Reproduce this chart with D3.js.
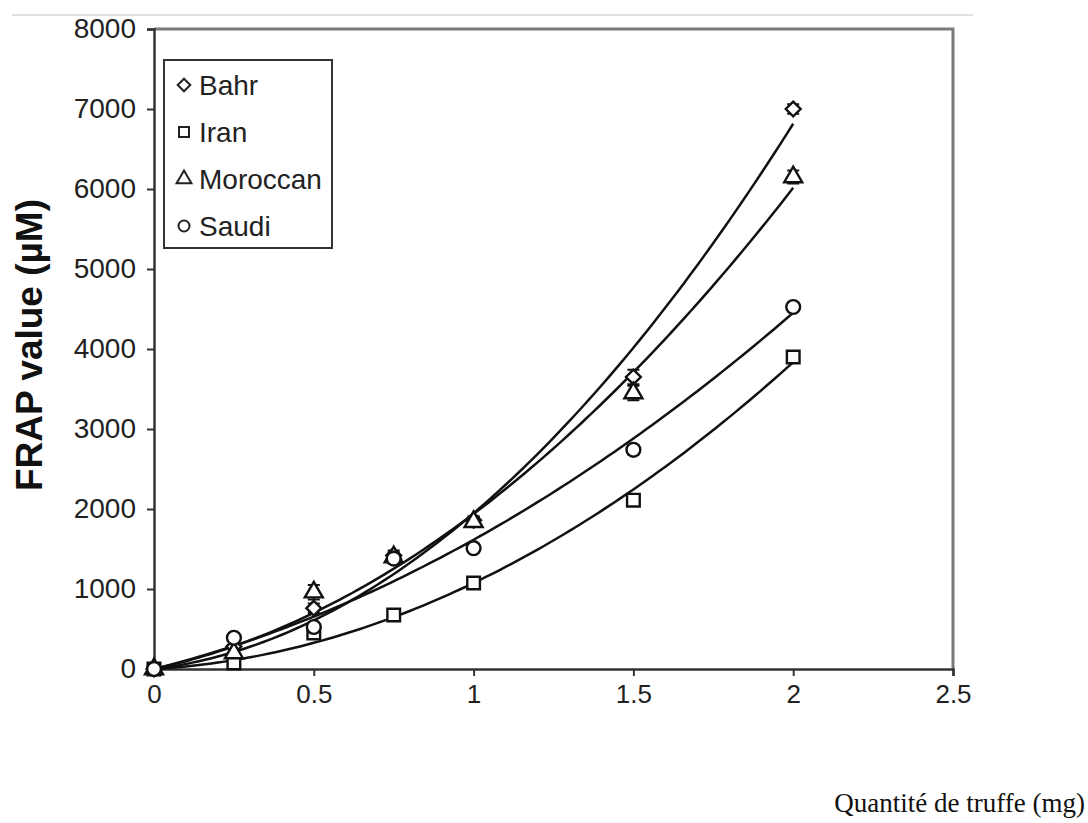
<!DOCTYPE html>
<html>
<head>
<meta charset="utf-8">
<script src="https://cdn.jsdelivr.net/npm/d3@7"></script>
<style>
  body { margin: 0; background: #fff; }
  svg { display: block; }
</style>
</head>
<body>
<svg width="1088" height="823"></svg>
<script>
// amount of truffle (mg)
var doses = [0, 0.25, 0.5, 0.75, 1, 1.5, 2];

var seriesNames = ["Bahr", "Iran", "Moroccan", "Saudi"];

// FRAP values (µM)
var bahr     = [0, 280, 760, 1420, 1860, 3650, 7000];
var iran     = [0, 75, 450, 675, 1075, 2110, 3900];
var moroccan = [0, 200, 960, 1400, 1840, 3450, 6150];
var saudi    = [0, 390, 525, 1380, 1510, 2740, 4525];

// small error bars
var bahrErr     = [0, 30, 60, 60, 50, 90, 60];
var iranErr     = [0, 20, 40, 30, 40, 50, 50];
var moroccanErr = [0, 30, 90, 60, 60, 90, 80];
var saudiErr    = [0, 30, 50, 60, 40, 60, 50];

var xTicks = [0, 0.5, 1, 1.5, 2, 2.5];
var xTickLabels = ["0", "0.5", "1", "1.5", "2", "2.5"];
var yTicks = [0, 1000, 2000, 3000, 4000, 5000, 6000, 7000, 8000];

// diamond drawn as a square turned 45 degrees (wider than d3's diamond)
var wideDiamond = {
  draw: function(ctx, size) {
    var r = Math.sqrt(size / 2);
    ctx.moveTo(0, -r); ctx.lineTo(r, 0); ctx.lineTo(0, r); ctx.lineTo(-r, 0); ctx.closePath();
  }
};

var series = [
  { name: "Bahr", values: bahr, err: bahrErr, symbol: wideDiamond, size: 110, legendSize: 80 },
  { name: "Iran", values: iran, err: iranErr, symbol: d3.symbolSquare, size: 160, legendSize: 100 },
  { name: "Moroccan", values: moroccan, err: moroccanErr, symbol: d3.symbolTriangle, size: 140, legendSize: 95 },
  { name: "Saudi", values: saudi, err: saudiErr, symbol: d3.symbolCircle, size: 150, legendSize: 95 }
];

var svg = d3.select("svg");

var x = d3.scaleLinear().domain([0, 2.5]).range([154, 953]);
var y = d3.scaleLinear().domain([0, 8000]).range([669, 29]);

// faint rule at the top
svg.append("line")
  .attr("x1", 12).attr("x2", 973).attr("y1", 15).attr("y2", 15)
  .attr("stroke", "#e2e2e2").attr("stroke-width", 2);

// top and right border
svg.append("path")
  .attr("d", "M" + x(0) + "," + y(8000) + "H" + x(2.5) + "V" + y(0))
  .attr("fill", "none").attr("stroke", "#7a7a7a").attr("stroke-width", 3);

// axes
var yAxis = svg.append("g")
  .attr("transform", "translate(" + x(0) + ",0)")
  .call(d3.axisLeft(y).tickValues(yTicks).tickSize(7).tickPadding(11).tickFormat(d3.format("d")));
var xAxis = svg.append("g")
  .attr("transform", "translate(0," + y(0) + ")")
  .call(d3.axisBottom(x).tickValues(xTicks).tickSize(7).tickPadding(9)
    .tickFormat(function(d, i) { return xTickLabels[i]; }));

[yAxis, xAxis].forEach(function(g) {
  g.select(".domain").attr("stroke", "#333").attr("stroke-width", 2.5);
  g.selectAll(".tick line").attr("stroke", "#333").attr("stroke-width", 2);
  g.selectAll(".tick text")
    .attr("fill", "#222")
    .style("font-family", "'Liberation Sans', Arial, sans-serif")
    .style("font-size", "26px");
});
yAxis.selectAll(".tick text").style("font-size", "28px");

// quadratic trendline through the origin, least squares
function quadFit(xs, ys) {
  var s2 = 0, s3 = 0, s4 = 0, t1 = 0, t2 = 0;
  for (var i = 0; i < xs.length; i++) {
    var v = xs[i];
    s2 += v * v; s3 += v * v * v; s4 += v * v * v * v;
    t1 += ys[i] * v; t2 += ys[i] * v * v;
  }
  var det = s2 * s4 - s3 * s3;
  var b = (t1 * s4 - t2 * s3) / det;
  var c = (s2 * t2 - s3 * t1) / det;
  return function(v) { return b * v + c * v * v; };
}

var line = d3.line().x(function(d) { return x(d[0]); }).y(function(d) { return y(d[1]); });

series.forEach(function(s) {
  var fit = quadFit(doses, s.values);
  var pts = d3.range(0, 2.0001, 0.02).map(function(v) { return [v, Math.max(0, fit(v))]; });
  svg.append("path")
    .attr("d", line(pts))
    .attr("fill", "none").attr("stroke", "#111").attr("stroke-width", 2.5);
});

// error bars and markers
series.forEach(function(s) {
  var g = svg.append("g");
  doses.forEach(function(d, i) {
    var e = s.err[i];
    if (e > 0) {
      var cx = x(d);
      g.append("path")
        .attr("d", "M" + cx + "," + y(s.values[i] - e) + "V" + y(s.values[i] + e) +
          "M" + (cx - 6) + "," + y(s.values[i] + e) + "H" + (cx + 6) +
          "M" + (cx - 6) + "," + y(s.values[i] - e) + "H" + (cx + 6))
        .attr("stroke", "#111").attr("stroke-width", 2).attr("fill", "none");
    }
  });
  g.selectAll("path.mark")
    .data(doses)
    .enter().append("path")
    .attr("class", "mark")
    .attr("transform", function(d, i) { return "translate(" + x(d) + "," + y(s.values[i]) + ")"; })
    .attr("d", d3.symbol().type(s.symbol).size(s.size))
    .attr("fill", "#fff").attr("stroke", "#111").attr("stroke-width", 2.4);
});

// legend
var legend = svg.append("g");
legend.append("rect")
  .attr("x", 164).attr("y", 60).attr("width", 168).attr("height", 188)
  .attr("fill", "#fff").attr("stroke", "#333").attr("stroke-width", 2);
seriesNames.forEach(function(name, i) {
  var s = series[i];
  var yy = 85 + i * 47;
  legend.append("path")
    .attr("transform", "translate(184," + yy + ")")
    .attr("d", d3.symbol().type(s.symbol).size(s.legendSize))
    .attr("fill", "#fff").attr("stroke", "#222").attr("stroke-width", 2);
  legend.append("text")
    .attr("x", 199).attr("y", yy + 10)
    .attr("fill", "#222")
    .style("font-family", "'Liberation Sans', Arial, sans-serif")
    .style("font-size", "28px")
    .text(name);
});

// axis titles
svg.append("text")
  .attr("transform", "translate(42,345) rotate(-90)")
  .attr("text-anchor", "middle")
  .attr("fill", "#111")
  .style("font-family", "'Liberation Sans', Arial, sans-serif")
  .style("font-weight", "bold")
  .style("font-size", "37px")
  .text("FRAP value (µM)");

svg.append("text")
  .attr("x", 1085).attr("y", 812)
  .attr("text-anchor", "end")
  .attr("fill", "#111")
  .style("font-family", "'Liberation Serif', 'Times New Roman', serif")
  .style("font-size", "27px")
  .text("Quantité de truffe (mg)");
</script>
</body>
</html>
